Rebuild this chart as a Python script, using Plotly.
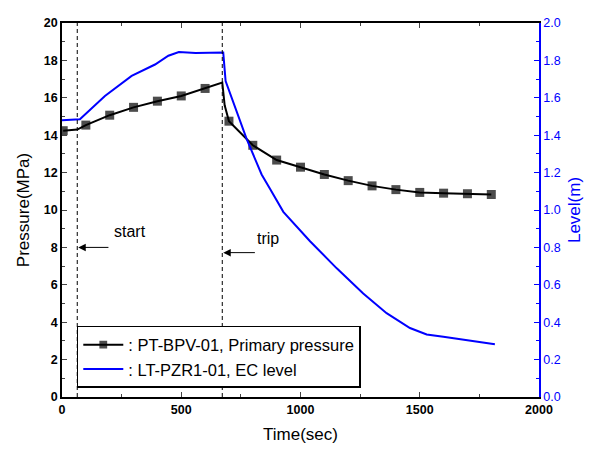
import plotly.graph_objects as go

# Pressure (left axis), MPa
p_time = [5, 64, 100, 200, 300, 400, 500, 600, 672, 682, 700, 800, 900, 1000, 1100, 1200, 1300, 1400, 1500, 1600, 1700, 1800]
p_vals = [14.24, 14.3, 14.54, 15.07, 15.49, 15.82, 16.10, 16.50, 16.82, 15.6, 14.75, 13.46, 12.67, 12.29, 11.9, 11.57, 11.29, 11.09, 10.94, 10.90, 10.87, 10.83]
p_marker = [1, 0, 1, 1, 1, 1, 1, 1, 0, 0, 1, 1, 1, 1, 1, 1, 1, 1, 1, 1, 1, 1]

# Level (right axis), m
l_time = [0, 75, 180, 292, 390, 446, 490, 560, 676, 686, 774, 837, 872, 928, 1040, 1152, 1263, 1361, 1459, 1529, 1599, 1815]
l_vals = [1.48, 1.485, 1.61, 1.717, 1.778, 1.825, 1.845, 1.84, 1.842, 1.69, 1.38, 1.19, 1.113, 0.99, 0.833, 0.688, 0.553, 0.448, 0.369, 0.334, 0.322, 0.282]

event_times = [64, 672]
event_labels = ["start", "trip"]
event_arrow_y = [8.0, 7.72]
event_arrow_tail = [201, 815]
event_text_x = [285, 864]
event_text_y = [8.85, 8.45]

FONT = "Liberation Sans, Arial, sans-serif"
BLUE = "#0000ff"

fig = go.Figure()
fig.add_trace(go.Scatter(
    x=p_time, y=p_vals, mode="lines+markers",
    name=": PT-BPV-01, Primary pressure",
    line=dict(color="black", width=2),
    marker=dict(symbol="square", size=[9 * m for m in p_marker], color="black",
                line=dict(width=0)),
))
fig.add_trace(go.Scatter(
    x=l_time, y=l_vals, mode="lines", yaxis="y2",
    name=": LT-PZR1-01, EC level",
    line=dict(color=BLUE, width=2),
))

for t in event_times:
    fig.add_shape(type="line", x0=t, x1=t, xref="x", y0=0, y1=1, yref="paper",
                  line=dict(color="black", width=1, dash="4px,3px"))

for lab, t, ay, tail, tx, ty in zip(event_labels, event_times, event_arrow_y, event_arrow_tail, event_text_x, event_text_y):
    fig.add_annotation(x=t + 4, y=ay, ax=tail, ay=ay, axref="x", ayref="y", xref="x", yref="y",
                       text="", showarrow=True, arrowhead=2, arrowsize=1.5, arrowwidth=1, arrowcolor="black")
    fig.add_annotation(x=tx, y=ty, xref="x", yref="y", text=lab, showarrow=False,
                       font=dict(family=FONT, size=16, color="black"))

fig.update_layout(
    width=603, height=450,
    margin=dict(l=54, r=72, t=8, b=61),
    paper_bgcolor="white", plot_bgcolor="white",
    font=dict(family=FONT, size=12, color="black"),
    showlegend=True,
    legend=dict(x=0.031, y=0.19, xanchor="left", yanchor="top",
                bordercolor="black", borderwidth=1.5, bgcolor="white",
                font=dict(family=FONT, size=16.5, color="black"),
                tracegroupgap=0, itemwidth=40),
    xaxis=dict(range=[0, 2000], dtick=500, tick0=0, ticks="inside", ticklen=5, tickwidth=1,
               minor=dict(dtick=250, ticks="inside", ticklen=3, tickwidth=1),
               showline=True, linecolor="black", linewidth=1.5, mirror="ticks",
               showgrid=False, zeroline=False,
               tickfont=dict(family=FONT, size=12.5, color="black", weight="bold"),
               title=dict(text="Time(sec)", font=dict(family=FONT, size=17), standoff=12)),
    yaxis=dict(range=[0, 20], dtick=2, tick0=0, ticks="inside", ticklen=5, tickwidth=1,
               minor=dict(dtick=1, ticks="inside", ticklen=3, tickwidth=1),
               showline=True, linecolor="black", linewidth=1.5, mirror=False,
               showgrid=False, zeroline=False,
               tickfont=dict(family=FONT, size=12.5, color="black", weight="bold"),
               title=dict(text="Pressure(MPa)", font=dict(family=FONT, size=17), standoff=10)),
    yaxis2=dict(range=[0, 2], dtick=0.2, tick0=0, tickformat=".1f", overlaying="y", side="right",
                ticks="inside", ticklen=5, tickwidth=1, tickcolor=BLUE,
                minor=dict(dtick=0.1, ticks="inside", ticklen=3, tickwidth=1, tickcolor=BLUE),
                showline=True, linecolor=BLUE, linewidth=1.5,
                showgrid=False, zeroline=False,
                tickfont=dict(family=FONT, size=12.5, color=BLUE),
                title=dict(text="Level(m)", font=dict(family=FONT, size=17, color=BLUE), standoff=8)),
)

fig.write_html("out.html")
